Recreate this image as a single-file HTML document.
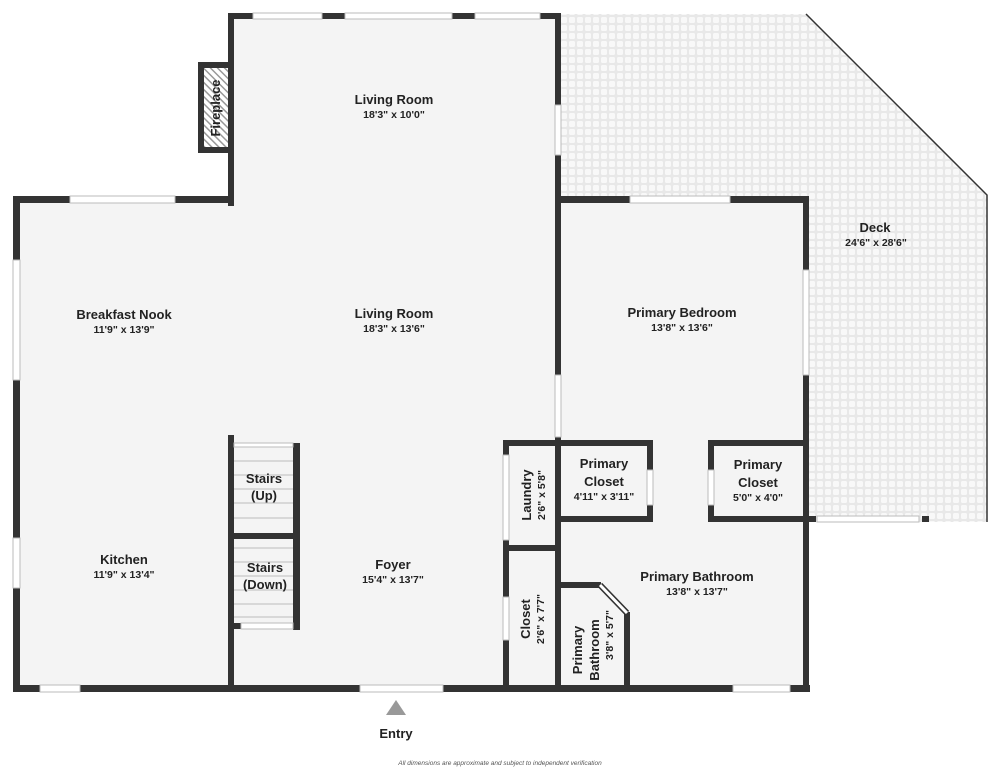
<!DOCTYPE html>
<html><head><meta charset="utf-8"><style>
html,body{margin:0;padding:0;background:#fff;}
svg{display:block;}
text{font-family:"Liberation Sans","DejaVu Sans",sans-serif;fill:#222;text-anchor:middle;}
.t{font-size:13px;font-weight:bold;}
.d{font-size:10.5px;font-weight:bold;}
</style></head><body>
<svg width="1001" height="768" viewBox="0 0 1001 768" xmlns="http://www.w3.org/2000/svg">
<defs>
<pattern id="tile" width="8" height="8" patternUnits="userSpaceOnUse">
<rect width="8" height="8" fill="#e8e8e8"/>
<rect x="1" y="1" width="6" height="6" rx="1.5" fill="#f8f8f8"/>
</pattern>
<pattern id="hatch" width="5" height="5" patternUnits="userSpaceOnUse" patternTransform="rotate(-45)">
<rect width="5" height="5" fill="#fff"/>
<rect width="1.5" height="5" fill="#999"/>
</pattern>
</defs>
<!-- deck -->
<polygon points="558,14 806,14 987,195 987,522 808,522 808,197 558,197" fill="url(#tile)"/>
<polyline points="806,14 987,195 987,522" fill="none" stroke="#333" stroke-width="1.5"/>
<!-- floors -->
<rect x="16" y="199" width="540" height="490" fill="#f4f4f4"/>
<rect x="231" y="16" width="326" height="190" fill="#f4f4f4"/>
<rect x="557" y="199" width="250" height="490" fill="#f4f4f4"/>
<!-- fireplace -->
<rect x="198" y="62" width="34" height="91" fill="#333"/>
<rect x="204" y="68" width="24" height="79" fill="url(#hatch)"/>
<text class="t" transform="translate(220,108) rotate(-90)" style="font-size:13px">Fireplace</text>
<g fill="#333">
<rect x="228" y="13" width="332" height="6"/>
<rect x="228" y="13" width="6" height="193"/>
<rect x="13" y="196" width="221" height="7"/>
<rect x="13" y="196" width="7" height="496"/>
<rect x="13" y="685" width="797" height="7"/>
<rect x="555" y="13" width="6" height="675"/>
<rect x="555" y="196" width="254" height="7"/>
<rect x="803" y="196" width="6" height="496"/>
<rect x="228" y="435" width="6" height="255"/>
<rect x="293" y="443" width="7" height="187"/>
<rect x="233" y="533" width="66" height="6"/>
<rect x="233" y="623" width="8" height="6"/>
<rect x="503" y="440" width="56" height="6"/>
<rect x="503" y="440" width="6" height="250"/>
<rect x="503" y="545" width="56" height="6"/>
<rect x="555" y="440" width="98" height="6"/>
<rect x="555" y="516" width="98" height="6"/>
<rect x="647" y="440" width="6" height="82"/>
<rect x="708" y="440" width="100" height="6"/>
<rect x="708" y="516" width="100" height="6"/>
<rect x="708" y="440" width="6" height="82"/>
<rect x="555" y="582" width="46" height="6"/>
<rect x="624" y="612" width="6" height="78"/>
<rect x="808" y="516" width="8" height="6"/>
<rect x="922" y="516" width="7" height="6"/>
</g>
<line x1="600" y1="585" x2="627" y2="613" stroke="#333" stroke-width="6"/>
<line x1="600" y1="585" x2="627" y2="613" stroke="#fff" stroke-width="3"/>
<g fill="#fff" stroke="#bbb" stroke-width="1">
<rect x="253" y="13" width="69" height="6"/>
<rect x="345" y="13" width="107" height="6"/>
<rect x="475" y="13" width="65" height="6"/>
<rect x="70" y="196" width="105" height="7"/>
<rect x="13" y="260" width="7" height="120"/>
<rect x="13" y="538" width="7" height="50"/>
<rect x="40" y="685" width="40" height="7"/>
<rect x="360" y="685" width="83" height="7"/>
<rect x="733" y="685" width="57" height="7"/>
<rect x="630" y="196" width="100" height="7"/>
<rect x="803" y="270" width="6" height="105"/>
<rect x="555" y="105" width="6" height="50"/>
<rect x="555" y="375" width="6" height="62"/>
<rect x="503" y="455" width="6" height="85"/>
<rect x="503" y="597" width="6" height="43"/>
<rect x="647" y="470" width="6" height="35"/>
<rect x="708" y="470" width="6" height="35"/>
<rect x="817" y="516" width="102" height="6"/>
<rect x="241" y="623" width="52" height="6"/>
<rect x="234" y="443" width="59" height="4"/>
</g>
<g stroke="#bbb" stroke-width="1">
<line x1="234" y1="461" x2="293" y2="461"/><line x1="234" y1="475" x2="293" y2="475"/>
<line x1="234" y1="489" x2="293" y2="489"/><line x1="234" y1="503" x2="293" y2="503"/>
<line x1="234" y1="518" x2="293" y2="518"/>
<line x1="234" y1="548" x2="293" y2="548"/><line x1="234" y1="562" x2="293" y2="562"/>
<line x1="234" y1="576" x2="293" y2="576"/><line x1="234" y1="590" x2="293" y2="590"/>
<line x1="234" y1="604" x2="293" y2="604"/><line x1="234" y1="617" x2="293" y2="617"/>
</g>
<text class="t" x="394" y="104">Living Room</text><text class="d" x="394" y="118">18'3" x 10'0"</text>
<text class="t" x="394" y="318">Living Room</text><text class="d" x="394" y="332">18'3" x 13'6"</text>
<text class="t" x="124" y="319">Breakfast Nook</text><text class="d" x="124" y="333">11'9" x 13'9"</text>
<text class="t" x="124" y="564">Kitchen</text><text class="d" x="124" y="578">11'9" x 13'4"</text>
<text class="t" x="393" y="569">Foyer</text><text class="d" x="393" y="583">15'4" x 13'7"</text>
<text class="t" x="264" y="483">Stairs</text><text class="t" x="264" y="500">(Up)</text>
<text class="t" x="265" y="572">Stairs</text><text class="t" x="265" y="589">(Down)</text>
<text class="t" x="682" y="317">Primary Bedroom</text><text class="d" x="682" y="331">13'8" x 13'6"</text>
<text class="t" x="875" y="232">Deck</text><text class="d" x="876" y="246">24'6" x 28'6"</text>
<text class="t" x="604" y="468">Primary</text><text class="t" x="604" y="486">Closet</text><text class="d" x="604" y="500">4'11" x 3'11"</text>
<text class="t" x="758" y="469">Primary</text><text class="t" x="758" y="487">Closet</text><text class="d" x="758" y="501">5'0" x 4'0"</text>
<text class="t" x="697" y="581">Primary Bathroom</text><text class="d" x="697" y="595">13'8" x 13'7"</text>
<text class="t" transform="translate(531,495) rotate(-90)">Laundry</text>
<text class="d" transform="translate(545,495) rotate(-90)">2'6" x 5'8"</text>
<text class="t" transform="translate(530,619) rotate(-90)">Closet</text>
<text class="d" transform="translate(544,619) rotate(-90)">2'6" x 7'7"</text>
<text class="t" transform="translate(582,650) rotate(-90)">Primary</text>
<text class="t" transform="translate(599,650) rotate(-90)">Bathroom</text>
<text class="d" transform="translate(613,635) rotate(-90)">3'8" x 5'7"</text>
<polygon points="396,700 386,715 406,715" fill="#999"/>
<text class="t" x="396" y="738">Entry</text>
<text x="500" y="765" style="font-size:6.5px;font-style:italic;fill:#555">All dimensions are approximate and subject to independent verification</text>
</svg>
</body></html>
